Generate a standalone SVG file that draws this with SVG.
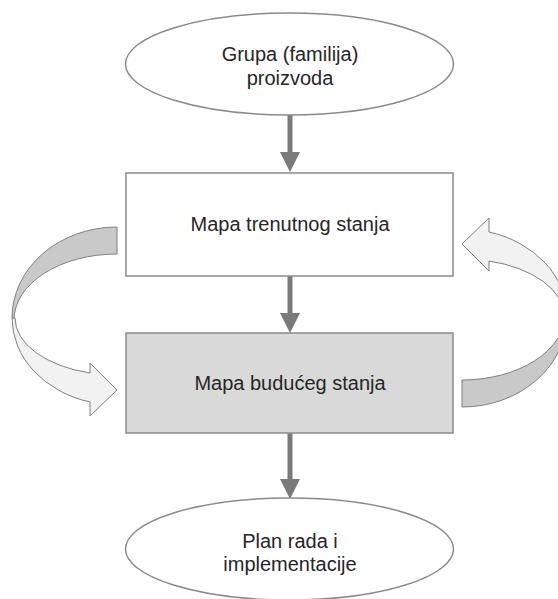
<svg xmlns="http://www.w3.org/2000/svg" width="558" height="599" viewBox="0 0 558 599">
  <style>
    .node { stroke: #8a8a8a; stroke-width: 1.5; }
    .lbl { font-family: "Liberation Sans", Arial, sans-serif; font-size: 20px; fill: #262626; text-anchor: middle; }
    .shaft { stroke: #7a7a7a; stroke-width: 5; fill: none; }
    .head { fill: #7a7a7a; }
    .back { fill: #c9c9c9; stroke: #7f7f7f; stroke-width: 1; }
    .front { fill: #f2f2f2; stroke: #7f7f7f; stroke-width: 1; }
  </style>
  <defs>
    <g id="curved">
      <path class="back" d="M117 227 A105 91 0 0 0 12 318 L14 320 A103 66 0 0 1 117 254 Z"/>
      <path class="front" d="M15 318 A102 57 0 0 0 90 373 L90 363 L117 390 L90 416 L90 402 A105 87 0 0 1 12 318 Z"/>
    </g>
  </defs>
  <rect width="558" height="599" fill="#ffffff"/>

  <g id="connectors">
    <line class="shaft" x1="290" y1="115" x2="290" y2="153"/>
    <polygon class="head" points="280,152 300,152 290,172"/>
    <line class="shaft" x1="290" y1="276" x2="290" y2="314"/>
    <polygon class="head" points="280,313 300,313 290,333"/>
    <line class="shaft" x1="290" y1="433" x2="290" y2="480"/>
    <polygon class="head" points="280,479 300,479 290,499"/>
    <use href="#curved"/>
    <use href="#curved" transform="rotate(180 289.5 317)"/>
  </g>

  <g id="grupa">
    <ellipse class="node" cx="289.5" cy="64" rx="164" ry="51" fill="#ffffff"/>
    <text class="lbl" x="290" y="61">Grupa (familija)</text>
    <text class="lbl" x="290" y="85">proizvoda</text>
  </g>

  <g id="trenutno">
    <rect class="node" x="126" y="173" width="327" height="103" fill="#ffffff"/>
    <text class="lbl" x="290" y="231">Mapa trenutnog stanja</text>
  </g>

  <g id="buduce">
    <rect class="node" x="126" y="333" width="327" height="100" fill="#d9d9d9"/>
    <text class="lbl" x="290" y="390">Mapa budućeg stanja</text>
  </g>

  <g id="plan">
    <ellipse class="node" cx="289.5" cy="549" rx="164" ry="51" fill="#ffffff"/>
    <text class="lbl" x="290" y="548">Plan rada i</text>
    <text class="lbl" x="290" y="571">implementacije</text>
  </g>
</svg>
